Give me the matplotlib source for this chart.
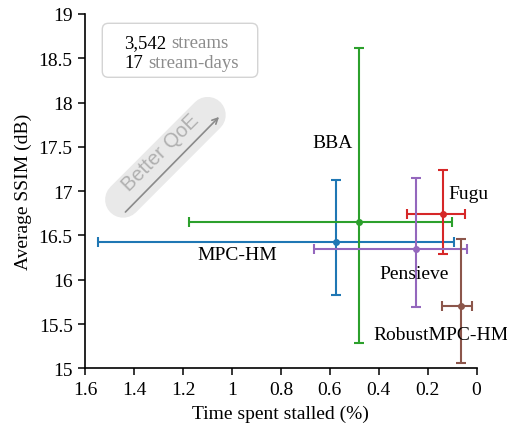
import matplotlib
matplotlib.use("Agg")
import matplotlib.pyplot as plt
from matplotlib.patches import FancyBboxPatch

plt.rcParams['font.family'] = ['Liberation Serif', 'DejaVu Serif']

# data: center, lower and upper bound of each interval
schemes = ['MPC-HM', 'BBA', 'Fugu', 'Pensieve', 'RobustMPC-HM']
stall = [0.576, 0.48, 0.136, 0.249, 0.063]
stall_lo = [0.093, 0.10, 0.047, 0.041, 0.018]
stall_hi = [1.548, 1.175, 0.286, 0.663, 0.14]
ssim = [16.43, 16.65, 16.74, 16.35, 15.70]
ssim_lo = [15.83, 15.29, 16.29, 15.69, 15.06]
ssim_hi = [17.13, 18.615, 17.24, 17.15, 16.46]
colors = ['#1f77b4', '#2ca02c', '#d62728', '#9467bd', '#8c564b']

# label placement (x, baseline y, alignment)
label_pos = [(0.979, 16.23, 'center'), (0.505, 17.50, 'right'),
             (0.116, 16.92, 'left'), (0.255, 16.02, 'center'),
             (0.147, 15.33, 'center')]

xticks = [1.6, 1.4, 1.2, 1.0, 0.8, 0.6, 0.4, 0.2, 0.0]
yticks = [15, 15.5, 16, 16.5, 17, 17.5, 18, 18.5, 19]

fig = plt.figure(figsize=(5.07, 4.27), dpi=100)
ax = fig.add_axes([0.168, 0.135, 0.772, 0.830])

# "Better QoE" hint
ax.plot([0.097, 0.313], [0.476, 0.715], transform=ax.transAxes, color='#e9e9e9',
        lw=26, solid_capstyle='round', zorder=0)
ax.annotate('', xy=(0.347, 0.715), xytext=(0.0978, 0.4355),
            xycoords='axes fraction', textcoords='axes fraction',
            arrowprops=dict(arrowstyle='->', color='#8a8a8a', lw=1.2,
                            mutation_scale=10), zorder=1)
ax.text(0.1935, 0.610, 'Better QoE', transform=ax.transAxes, rotation=45,
        ha='center', va='center', rotation_mode='anchor', fontsize=14.5,
        family='Liberation Sans', color='#b0b0b0', zorder=1)

for i, name in enumerate(schemes):
    xerr = [[stall[i] - stall_lo[i]], [stall_hi[i] - stall[i]]]
    yerr = [[ssim[i] - ssim_lo[i]], [ssim_hi[i] - ssim[i]]]
    ax.errorbar([stall[i]], [ssim[i]], xerr=xerr, yerr=yerr, fmt='o',
                color=colors[i], ms=4, elinewidth=1.5, capsize=3.5,
                capthick=1.5, zorder=3)
    lx, ly, ha = label_pos[i]
    ax.text(lx, ly, name, ha=ha, va='baseline', fontsize=14, zorder=4)

# info box
box = FancyBboxPatch((102.3 / 507, 1 - 78.3 / 427), 155.4 / 507, 54 / 427,
                     boxstyle='round,pad=0,rounding_size=0.012',
                     mutation_aspect=507 / 427, transform=fig.transFigure,
                     facecolor='white', edgecolor='#d4d4d4', lw=1.0,
                     clip_on=False, zorder=5)
ax.add_patch(box)
info = [('3,542', 'streams', 48.5), ('17', 'stream-days', 68.5)]
for num, word, base in info:
    t = ax.text(124.3 / 507, 1 - base / 427, num, transform=fig.transFigure,
                fontsize=13.5, color='black', va='baseline', zorder=6)
    ax.annotate(word, xy=(1, 0), xycoords=t, xytext=(3.4, 0),
                textcoords='offset points', va='bottom', ha='left',
                fontsize=13.5, color='#8c8c8c', zorder=6)

ax.set_xlim(1.6, 0)
ax.set_ylim(15, 19)
ax.set_xticks(xticks)
ax.set_xticklabels(['%g' % v for v in xticks])
ax.set_yticks(yticks)
ax.set_yticklabels(['%g' % v for v in yticks])
ax.tick_params(direction='out', length=5, width=1.1, labelsize=14, pad=4)
for s in ['top', 'right']:
    ax.spines[s].set_visible(False)
for s in ['left', 'bottom']:
    ax.spines[s].set_linewidth(1.2)
ax.set_xlabel('Time spent stalled (%)', fontsize=14, labelpad=5)
ax.set_ylabel('Average SSIM (dB)', fontsize=14, labelpad=5)

fig.savefig('out.png', dpi=100)
